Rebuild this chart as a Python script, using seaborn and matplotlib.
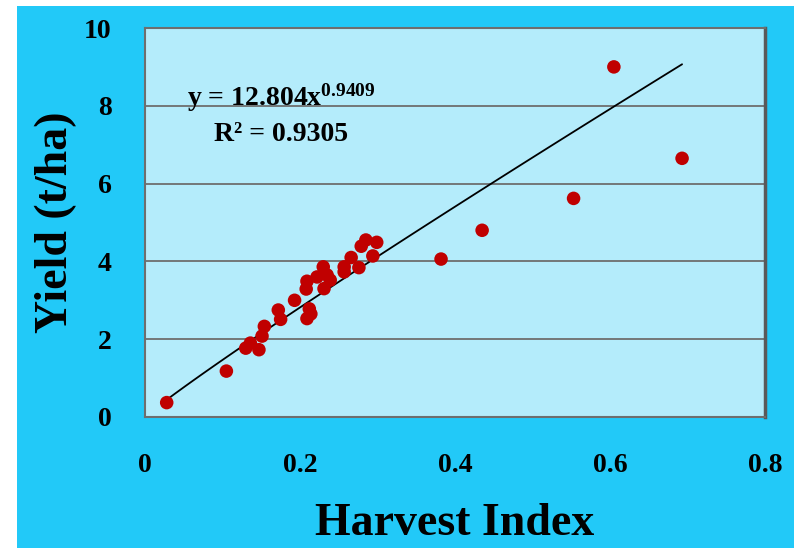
import numpy as np
import pandas as pd
import matplotlib
matplotlib.use("Agg")
import matplotlib.pyplot as plt
import seaborn as sns
from matplotlib.patches import Rectangle

# Datos
harvest_index = [0.028, 0.105, 0.130, 0.136, 0.147, 0.151, 0.154, 0.172, 0.175,
                 0.193, 0.209, 0.212, 0.214, 0.208, 0.209, 0.222, 0.230, 0.231,
                 0.239, 0.235, 0.257, 0.257, 0.266, 0.276, 0.279, 0.285, 0.299,
                 0.294, 0.382, 0.435, 0.553, 0.605, 0.693]
yield_tha = [0.37, 1.18, 1.77, 1.90, 1.73, 2.08, 2.33, 2.75, 2.51,
             3.00, 2.53, 2.78, 2.65, 3.29, 3.49, 3.60, 3.86, 3.30,
             3.52, 3.65, 3.86, 3.73, 4.10, 3.84, 4.39, 4.55, 4.49,
             4.14, 4.06, 4.80, 5.62, 9.00, 6.65]

# Coeficientes de la linea de tendencia (potencial)
coef_a = 12.804
coef_b = 0.9409
r2 = 0.9305

df = pd.DataFrame({"hi": harvest_index, "yield": yield_tha})
xs = np.linspace(min(harvest_index), max(harvest_index), 60)
trend = pd.DataFrame({"hi": xs, "yield": coef_a * xs ** coef_b})

sns.set_style("white")
plt.rcParams["font.family"] = ["Liberation Serif", "DejaVu Serif"]
plt.rcParams["font.weight"] = "bold"
plt.rcParams["text.color"] = "black"
plt.rcParams["axes.labelcolor"] = "black"
plt.rcParams["xtick.labelcolor"] = "black"
plt.rcParams["ytick.labelcolor"] = "black"
plt.rcParams["mathtext.fontset"] = "custom"
plt.rcParams["mathtext.rm"] = "Liberation Serif:bold"
plt.rcParams["mathtext.it"] = "Liberation Serif:bold"
plt.rcParams["mathtext.bf"] = "Liberation Serif:bold"

fig = plt.figure(figsize=(7.94, 5.48), dpi=100)
fig.patch.set_facecolor("white")
fig.patches.append(Rectangle((17 / 794, 0), 1, 1 - 6 / 548, transform=fig.transFigure,
                             facecolor="#22C9F8", edgecolor="none", zorder=-10))

ax = fig.add_axes([145 / 794, 1 - 417 / 548, 620 / 794, 389 / 548])
ax.set_facecolor("#B4ECFB")

sns.lineplot(data=trend, x="hi", y="yield", color="black", linewidth=1.3, ax=ax, zorder=3)
sns.scatterplot(data=df, x="hi", y="yield", color="#C00000", s=95, edgecolor="none",
                ax=ax, zorder=4)

ax.set_xlim(0, 0.8)
ax.set_ylim(0, 10)
ax.set_xticks([0, 0.2, 0.4, 0.6, 0.8])
ax.set_xticklabels(["0", "0.2", "0.4", "0.6", "0.8"])
ax.set_yticks([0, 2, 4, 6, 8, 10])
ax.yaxis.grid(True, color="#6E6E6E", linewidth=1.3)
ax.set_axisbelow(True)

for side in ["left", "bottom", "top"]:
    ax.spines[side].set_color("#6E6E6E")
    ax.spines[side].set_linewidth(1.5)
ax.spines["right"].set_color("#5A5A5A")
ax.spines["right"].set_linewidth(2.5)

ax.tick_params(axis="both", direction="out", length=9, width=1.2, color="#6E6E6E",
               labelsize=20)
ax.tick_params(axis="y", pad=15)
ax.tick_params(axis="x", pad=17)
for lab in ax.get_xticklabels() + ax.get_yticklabels():
    lab.set_fontweight("bold")

ax.set_xlabel("Harvest Index", fontsize=33, fontweight="bold", labelpad=18)
ax.set_ylabel("Yield (t/ha)", fontsize=33, fontweight="bold", labelpad=5)

ax.text(0.176, 8.2, "y = 12.804x$^{0.9409}$", fontsize=20, fontweight="bold",
        ha="center", va="center")
ax.text(0.176, 7.25, "R\u00b2 = 0.9305", fontsize=20, fontweight="bold",
        ha="center", va="center")

fig.savefig("out.png", dpi=100)
